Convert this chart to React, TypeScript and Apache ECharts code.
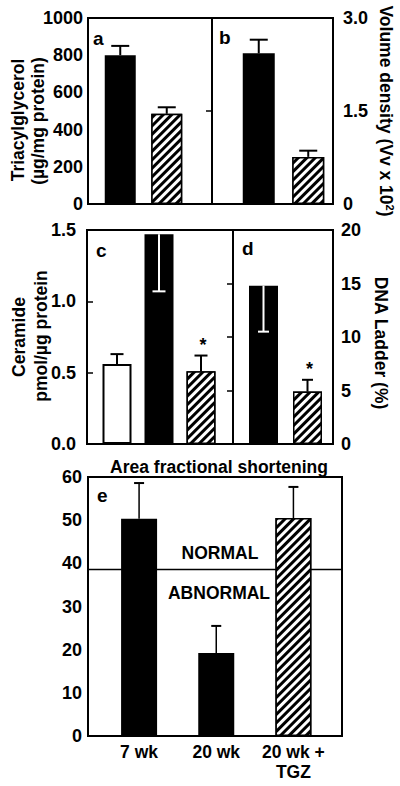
import React, { useEffect, useRef } from "react";
import * as echarts from "echarts";

const FONT = "'Liberation Sans', Arial, Helvetica, sans-serif";

// ---- Panel a: Triacylglycerol (µg/mg protein)
const catsA = ["20 wk", "20 wk + TGZ"];
const valuesA = [800, 485];
const errA = [850, 520];
// ---- Panel b: Volume density (Vv x 10^2)
const catsB = ["20 wk", "20 wk + TGZ"];
const valuesB = [2.43, 0.76];
const errB = [2.65, 0.86];
// ---- Panel c: Ceramide (pmol/µg protein)
const catsC = ["7 wk", "20 wk", "20 wk + TGZ"];
const valuesC = [0.56, 1.47, 0.51];
const errC = [0.63, 1.07, 0.62];
const sigC = [0, 0, 1];
// ---- Panel d: DNA Ladder (%)
const catsD = ["20 wk", "20 wk + TGZ"];
const valuesD = [14.8, 4.9];
const errD = [10.5, 6.0];
const sigD = [0, 1];
// ---- Panel e: Area fractional shortening
const catsE = ["7 wk", "20 wk", "20 wk +\nTGZ"];
const valuesE = [50.3, 19.2, 50.5];
const errE = [58.6, 25.5, 57.7];
const thresholdE = 38.6;

// axis scales
const scaleA = { min: 0, max: 1000, interval: 200 };
const scaleB = { min: 0, max: 3, interval: 1.5 };
const scaleC = { min: 0, max: 1.5, interval: 0.5 };
const scaleD = { min: 0, max: 20, interval: 5 };
const scaleE = { min: 0, max: 60, interval: 10 };

// fills per bar (style)
const fillA = ["solid", "hatch"];
const fillB = ["solid", "hatch"];
const fillC = ["open", "solid", "hatch"];
const fillD = ["solid", "hatch"];
const fillE = ["solid", "solid", "hatch"];

const txt = { fontFamily: FONT, fontWeight: "bold" as const, color: "#000" };

function styleFor(kind: string) {
  if (kind === "hatch")
    return {
      color: "#000",
      borderColor: "#000",
      borderWidth: 1.5,
      decal: {
        symbol: "rect",
        symbolSize: 1,
        color: "#fff",
        dashArrayX: [1, 0],
        dashArrayY: [2.6, 2.8],
        rotation: -Math.PI / 4,
      },
    };
  if (kind === "open") return { color: "#fff", borderColor: "#000", borderWidth: 2 };
  return { color: "#000", borderColor: "#000", borderWidth: 0 };
}

function barSeries(idx: number, values: number[], fills: string[], width: number) {
  return {
    type: "bar",
    xAxisIndex: idx,
    yAxisIndex: idx,
    barWidth: width,
    z: 3,
    data: values.map((v, i) => ({ value: v, itemStyle: styleFor(fills[i]) })),
  };
}

function errSeries(idx: number, values: number[], errs: number[], sig: number[] | null, capW: number, lw: number) {
  return {
    type: "custom",
    xAxisIndex: idx,
    yAxisIndex: idx,
    z: 5,
    data: values.map((v, i) => [i, v, errs[i], sig ? sig[i] : 0]),
    renderItem: (_p: any, api: any) => {
      const i = api.value(0);
      const v = api.value(1);
      const e = api.value(2);
      const s = api.value(3);
      const p0 = api.coord([i, v]);
      const p1 = api.coord([i, e]);
      const col = e < v ? "#fff" : "#000";
      const children: any[] = [
        { type: "line", shape: { x1: p0[0], y1: p0[1], x2: p1[0], y2: p1[1] }, style: { stroke: col, lineWidth: lw } },
        {
          type: "line",
          shape: { x1: p1[0] - capW / 2, y1: p1[1], x2: p1[0] + capW / 2, y2: p1[1] },
          style: { stroke: col, lineWidth: 2 },
        },
      ];
      if (s) {
        children.push({
          type: "text",
          x: p1[0] + 2,
          y: p1[1] - 11,
          style: { text: "*", fontSize: 18, fontFamily: FONT, fontWeight: "bold", fill: "#000", align: "center", verticalAlign: "middle" },
        });
      }
      return { type: "group", children };
    },
  };
}

export default function App() {
  const ref = useRef<HTMLDivElement>(null);
  useEffect(() => {
    document.body.style.margin = "0";
    const chart = echarts.init(ref.current!, undefined, { renderer: "svg" });

    const frame = (left: number, top: number, width: number, height: number) => ({
      left, top, width, height, show: true, borderColor: "#000", borderWidth: 2,
      backgroundColor: "transparent", containLabel: false, outerBoundsMode: "none",
    });
    const inner = (left: number, top: number, width: number, height: number) => ({
      left, top, width, height, show: false, containLabel: false, outerBoundsMode: "none",
    });

    const grids = [
      frame(88, 18, 124, 186), // 0 frame a
      frame(212, 18, 121, 186), // 1 frame b
      inner(97, 18, 93, 186), // 2 bars a
      inner(234, 18, 99, 186), // 3 bars b
      frame(87, 230, 146, 214), // 4 frame c
      frame(233, 230, 100, 214), // 5 frame d
      inner(96, 230, 126, 214), // 6 bars c
      inner(241.5, 230, 88, 214), // 7 bars d
      frame(88, 477, 254, 259), // 8 frame e
      inner(100.5, 477, 231.5, 259), // 9 bars e
    ];

    const hiddenValX = (g: number) => ({ type: "value", gridIndex: g, show: false, min: 0, max: 1 });
    const hiddenCatX = (g: number, cats: string[]) => ({ type: "category", gridIndex: g, show: false, data: cats });
    const hiddenY = (g: number, sc: any) => ({ type: "value", gridIndex: g, show: false, ...sc });

    const labelStyle = (margin: number, fmt?: (v: number) => string) => ({
      ...txt, fontSize: 18, margin, formatter: fmt || ((v: number) => String(v)),
    });
    const tickIn = { show: true, inside: true, length: 6, lineStyle: { color: "#000", width: 1.5 } };
    const nameStyle = (lineHeight: number, extra: any = {}) => ({
      ...txt, fontSize: 17.5, lineHeight, ...extra,
    });

    const xAxes = [
      hiddenValX(0),
      hiddenValX(1),
      hiddenCatX(2, catsA),
      hiddenCatX(3, catsB),
      hiddenValX(4),
      hiddenValX(5),
      hiddenCatX(6, catsC),
      hiddenCatX(7, catsD),
      hiddenValX(8),
      {
        type: "category", gridIndex: 9, data: catsE,
        axisLine: { show: false }, axisTick: { show: false },
        axisLabel: { ...txt, fontSize: 17.5, lineHeight: 20, margin: 6, interval: 0 },
      },
    ];

    const yAxes = [
      {
        type: "value", gridIndex: 0, position: "left", ...scaleA,
        axisLine: { show: false }, axisTick: { show: false }, splitLine: { show: false },
        axisLabel: labelStyle(5),
      },
      {
        type: "value", gridIndex: 1, position: "right", ...scaleB,
        axisLine: { show: false }, axisTick: tickIn, splitLine: { show: false },
        axisLabel: labelStyle(10, (v: number) => (v === 0 ? "0" : v.toFixed(1))),
        name: "Volume density (Vv x 10{sup|2})", nameLocation: "middle", nameRotate: -90, nameGap: 44,
        nameMoveOverlap: false,
        nameTextStyle: nameStyle(18, {
          rich: { sup: { fontFamily: FONT, fontWeight: "bold", fontSize: 11, color: "#000", padding: [0, 0, 8, 0] } },
        }),
      },
      hiddenY(2, scaleA),
      hiddenY(3, scaleB),
      {
        type: "value", gridIndex: 4, position: "left", ...scaleC,
        axisLine: { show: false }, axisTick: tickIn, splitLine: { show: false },
        axisLabel: labelStyle(11, (v: number) => v.toFixed(1)),
      },
      {
        type: "value", gridIndex: 5, position: "right", ...scaleD,
        axisLine: { show: false }, axisTick: tickIn, splitLine: { show: false },
        axisLabel: labelStyle(8),
        name: "DNA Ladder (%)", nameLocation: "middle", nameRotate: -90, nameGap: 39,
        nameMoveOverlap: false,
        nameTextStyle: nameStyle(18, { padding: [0, 0, 0, 12] }),
      },
      hiddenY(6, scaleC),
      hiddenY(7, scaleD),
      {
        type: "value", gridIndex: 8, position: "left", ...scaleE,
        axisLine: { show: false }, axisTick: { show: false }, splitLine: { show: false },
        axisLabel: labelStyle(6),
      },
      hiddenY(9, scaleE),
    ];

    const series: any[] = [
      barSeries(2, valuesA, fillA, 31),
      errSeries(2, valuesA, errA, null, 18, 2),
      barSeries(3, valuesB, fillB, 32),
      errSeries(3, valuesB, errB, null, 18, 2),
      barSeries(6, valuesC, fillC, 29),
      errSeries(6, valuesC, errC, sigC, 13, 2),
      barSeries(7, valuesD, fillD, 29),
      errSeries(7, valuesD, errD, sigD, 11, 2),
      {
        type: "line", xAxisIndex: 8, yAxisIndex: 8, z: 1, symbol: "none", silent: true,
        lineStyle: { color: "#000", width: 1.5 },
        data: [[0, thresholdE], [1, thresholdE]],
      },
      barSeries(9, valuesE, fillE, 36),
      errSeries(9, valuesE, errE, null, 10, 1.5),
    ];

    const label = (text: string, x: number, y: number, size = 19, align = "left") => ({
      type: "text", x, y, z: 10,
      style: { text, fontSize: size, fontFamily: FONT, fontWeight: "bold", fill: "#000", align, verticalAlign: "middle" },
    });
    const vname = (text: string, x: number, y: number) => ({
      type: "text", x, y, z: 10, rotation: Math.PI / 2,
      style: {
        text, fontSize: 17.5, fontFamily: FONT, fontWeight: "bold", fill: "#000",
        align: "center", verticalAlign: "middle",
      },
    });

    chart.setOption({
      animation: false,
      backgroundColor: "#fff",
      aria: { enabled: false },
      grid: grids,
      xAxis: xAxes,
      yAxis: yAxes,
      series,
      graphic: [
        label("a", 93, 38),
        label("b", 219, 37),
        label("c", 96, 250),
        label("d", 242, 248),
        label("e", 97, 495),
        label("Area fractional shortening", 219, 467, 17.5, "center"),
        label("NORMAL", 220, 553, 17.5, "center"),
        label("ABNORMAL", 219, 593, 17.5, "center"),
        vname("Triacylglycerol", 18, 120),
        vname("(µg/mg protein)", 38, 121),
        vname("Ceramide", 19, 337),
        vname("pmol/µg protein", 41, 336),
      ],
    });
    return () => chart.dispose();
  }, []);
  return <div ref={ref} style={{ position: "fixed", left: 0, top: 0, width: 400, height: 786 }} />;
}
